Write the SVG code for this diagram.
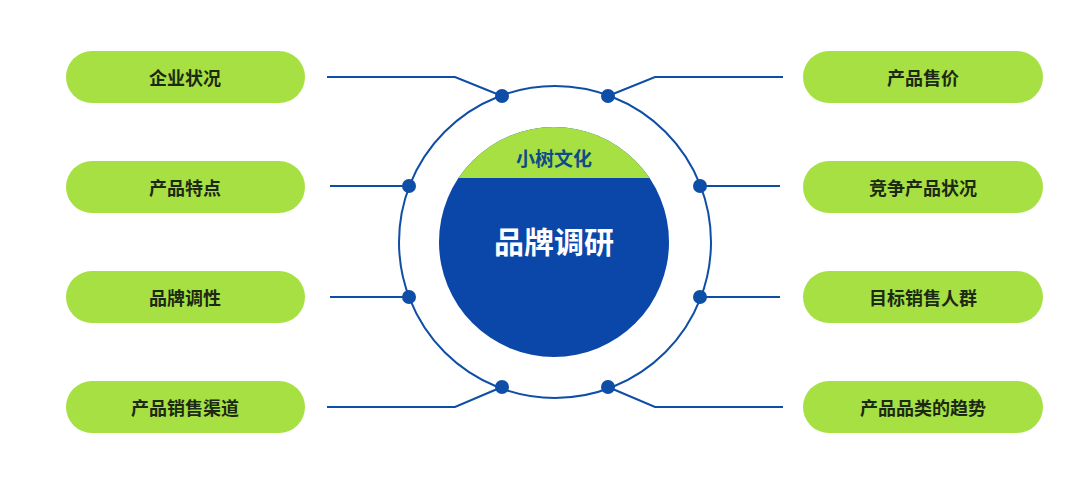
<svg xmlns="http://www.w3.org/2000/svg" width="1080" height="478" viewBox="0 0 1080 478">
<style>
.pill{fill:#a7e042}
.pt{font-family:"Noto Sans CJK SC",sans-serif;font-size:18px;font-weight:bold;fill:#1c2a14;text-anchor:middle;dominant-baseline:central}
.ln{fill:none;stroke:#0f4ea6;stroke-width:2}
.dot{fill:#0f4ea6}
</style>
<rect width="1080" height="478" fill="#fff"/>
<g id="connectors">
<circle class="ln" cx="555" cy="242" r="156"/>
<polyline class="ln" points="327,77 455,77 502,96"/>
<polyline class="ln" points="330,186 409,186"/>
<polyline class="ln" points="330,297 409,297"/>
<polyline class="ln" points="327,407 455,407 502,387"/>
<polyline class="ln" points="783,77 655,77 608,96"/>
<polyline class="ln" points="780,186 700,186"/>
<polyline class="ln" points="780,297 700,297"/>
<polyline class="ln" points="783,407 655,407 608,387"/>
<circle class="dot" cx="502" cy="96" r="7"/>
<circle class="dot" cx="608" cy="96" r="7"/>
<circle class="dot" cx="409" cy="186" r="7"/>
<circle class="dot" cx="700" cy="186" r="7"/>
<circle class="dot" cx="409" cy="297" r="7"/>
<circle class="dot" cx="700" cy="297" r="7"/>
<circle class="dot" cx="502" cy="387" r="7"/>
<circle class="dot" cx="608" cy="387" r="7"/>
</g>
<g id="center">
<clipPath id="c"><circle cx="554" cy="242" r="115"/></clipPath>
<circle cx="554" cy="242" r="115" fill="#0a47a8"/>
<rect x="430" y="120" width="250" height="58" fill="#a7e042" clip-path="url(#c)"/>
<text x="554" y="157" font-family="Noto Sans CJK SC,sans-serif" font-size="19" font-weight="bold" fill="#0f4a8a" text-anchor="middle" dominant-baseline="central">小树文化</text>
<text x="554" y="240" font-family="Noto Sans CJK SC,sans-serif" font-size="30" font-weight="bold" fill="#fff" text-anchor="middle" dominant-baseline="central">品牌调研</text>
</g>
<g id="n1"><rect class="pill" x="66" y="51" width="239" height="52" rx="26"/><text class="pt" x="185" y="77">企业状况</text></g>
<g id="n2"><rect class="pill" x="66" y="161" width="239" height="52" rx="26"/><text class="pt" x="185" y="187">产品特点</text></g>
<g id="n3"><rect class="pill" x="66" y="271" width="239" height="52" rx="26"/><text class="pt" x="185" y="297">品牌调性</text></g>
<g id="n4"><rect class="pill" x="66" y="381" width="239" height="52" rx="26"/><text class="pt" x="185" y="407">产品销售渠道</text></g>
<g id="n5"><rect class="pill" x="803" y="51" width="240" height="52" rx="26"/><text class="pt" x="923" y="77">产品售价</text></g>
<g id="n6"><rect class="pill" x="803" y="161" width="240" height="52" rx="26"/><text class="pt" x="923" y="187">竞争产品状况</text></g>
<g id="n7"><rect class="pill" x="803" y="271" width="240" height="52" rx="26"/><text class="pt" x="923" y="297">目标销售人群</text></g>
<g id="n8"><rect class="pill" x="803" y="381" width="240" height="52" rx="26"/><text class="pt" x="923" y="407">产品品类的趋势</text></g>
</svg>
